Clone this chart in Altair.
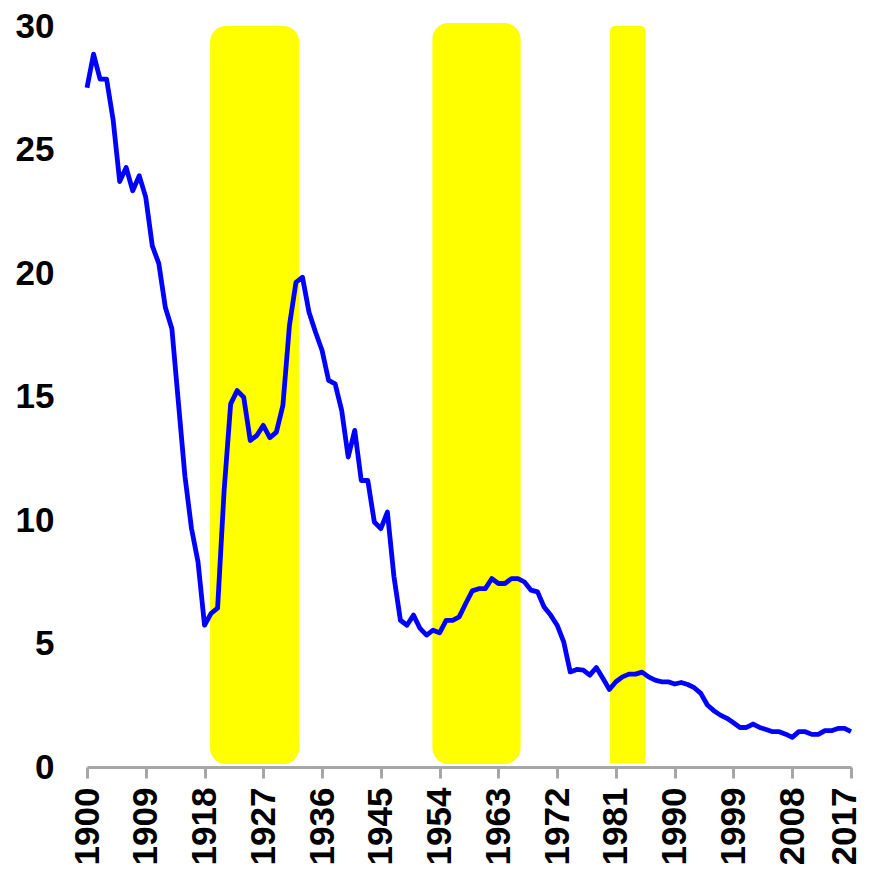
import altair as alt
import pandas as pd

years = list(range(1900, 2018))
values = [
    27.5, 28.86, 27.85, 27.85, 26.2, 23.7, 24.27, 23.33, 23.94, 23.06,   # 1900-1909
    21.1, 20.38, 18.6, 17.74, 14.75, 11.77, 9.66, 8.3, 5.74, 6.22,       # 1910-1919
    6.43, 11.2, 14.7, 15.24, 14.97, 13.22, 13.42, 13.83, 13.33, 13.56,   # 1920-1929
    14.64, 17.87, 19.62, 19.83, 18.41, 17.6, 16.86, 15.65, 15.51, 14.44, # 1930-1939
    12.55, 13.63, 11.6, 11.6, 9.92, 9.65, 10.32, 7.72, 5.94, 5.74,       # 1940-1949
    6.15, 5.61, 5.34, 5.54, 5.43, 5.94, 5.94, 6.08, 6.62, 7.13,          # 1950-1959
    7.22, 7.22, 7.63, 7.43, 7.43, 7.63, 7.63, 7.49, 7.16, 7.09,          # 1960-1969
    6.48, 6.15, 5.74, 5.07, 3.85, 3.95, 3.92, 3.72, 4.03, 3.59,          # 1970-1979
    3.14, 3.45, 3.65, 3.76, 3.76, 3.84, 3.65, 3.52, 3.45, 3.45,          # 1980-1989
    3.36, 3.42, 3.34, 3.21, 2.98, 2.51, 2.28, 2.1, 1.97, 1.79,           # 1990-1999
    1.6, 1.6, 1.74, 1.6, 1.52, 1.43, 1.43, 1.33, 1.2, 1.43,              # 2000-2009
    1.43, 1.32, 1.32, 1.47, 1.47, 1.56, 1.56, 1.43,                      # 2010-2017
]
assert len(years) == len(values)

tick_years = list(range(1900, 2018, 9))
y_ticks = [0, 5, 10, 15, 20, 25, 30]

# shaded periods (yellow rounded bars)
wide_start = [1918.85, 1952.9]
wide_end = [1932.5, 1966.4]
wide_top = [30.0, 30.12]
wide_bottom = [0.12, 0.12]

narrow_start = [1980.1]
narrow_end = [1985.55]
narrow_top = [30.0]
narrow_bottom = [0.15]

line_df = pd.DataFrame({"year": years, "value": values})
wide_df = pd.DataFrame({"s": wide_start, "e": wide_end, "t": wide_top, "b": wide_bottom})
narrow_df = pd.DataFrame({"s": narrow_start, "e": narrow_end, "t": narrow_top, "b": narrow_bottom})

FONT = "Liberation Sans"
GRAY = "#a6a6a6"

x_scale = alt.Scale(domain=[1900, 2017], nice=False, zero=False)
y_scale = alt.Scale(domain=[0, 30], nice=False)

x_axis = alt.Axis(
    values=tick_years, format="d", labelAngle=-90, labelFontSize=35,
    labelFont=FONT, labelFontWeight="bold", labelColor="black",
    tickSize=11, tickWidth=3, tickColor=GRAY, domainColor=GRAY, domainWidth=3,
    labelPadding=9, grid=False, zindex=1, title=None, labelOverlap=False,
    labelFlush=False,
    labelOffset={"condition": {"test": "datum.value == 2017", "value": -7}, "value": 0},
)
y_axis = alt.Axis(
    values=y_ticks, labelFontSize=35, labelFont=FONT, labelFontWeight="bold",
    labelColor="black", domain=False, ticks=False, grid=False,
    labelPadding=33, title=None,
)

wide = alt.Chart(wide_df).mark_rect(color="#ffff00", cornerRadius=16).encode(
    x=alt.X("s:Q", scale=x_scale, axis=x_axis),
    x2="e:Q",
    y=alt.Y("t:Q", scale=y_scale, axis=y_axis),
    y2="b:Q",
)
narrow = alt.Chart(narrow_df).mark_rect(
    color="#ffff00", cornerRadiusTopLeft=5, cornerRadiusTopRight=5
).encode(
    x=alt.X("s:Q", scale=x_scale),
    x2="e:Q",
    y=alt.Y("t:Q", scale=y_scale),
    y2="b:Q",
)
line = alt.Chart(line_df).mark_line(color="#0000ff", strokeWidth=4.8, strokeJoin="round").encode(
    x=alt.X("year:Q", scale=x_scale),
    y=alt.Y("value:Q", scale=y_scale),
)

chart = (
    alt.layer(wide, narrow, line)
    .properties(
        width=764,
        height=741,
        autosize=alt.AutoSizeParams(type="none"),
        padding={"left": 79, "top": 18, "right": 10, "bottom": 97},
    )
    .configure_view(strokeWidth=0)
)

chart.save("out.html", embed_options={"renderer": "svg", "actions": False})
